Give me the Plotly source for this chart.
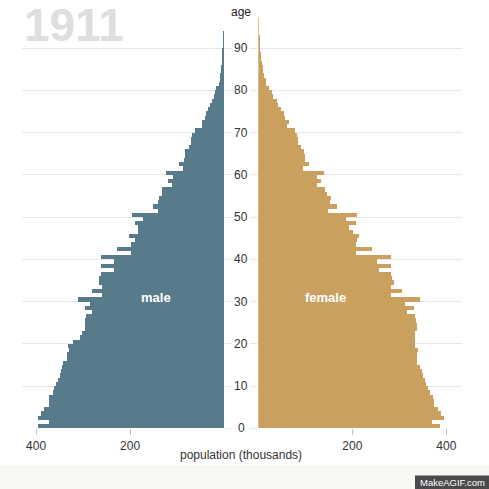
import plotly.graph_objects as go

# population by single year of age, thousands
male = [396, 373, 396, 389, 383, 373, 373, 372, 365, 362,
        358, 353, 350, 347, 344, 342, 335, 335, 330, 332,
        322, 307, 303, 296, 296, 296, 294, 282, 296, 286,
        310, 260, 280, 259, 267, 267, 261, 235, 262, 234,
        262, 199, 227, 197, 190, 202, 184, 184, 189, 172,
        196, 140, 152, 140, 139, 132, 132, 111, 119, 109,
        123, 87, 96, 86, 84, 82, 74, 70, 70, 69,
        61, 47, 47, 41, 39, 34, 30, 26, 22, 20,
        16, 11, 9, 8, 7, 6, 5, 4, 3, 2.5,
        2, 1.5, 1, 0.7]
female = [388, 370, 395, 390, 382, 374, 374, 373, 367, 362,
          358, 355, 351, 348, 344, 338, 338, 339, 341, 335,
          333, 333, 335, 339, 339, 337, 335, 317, 332, 312,
          345, 282, 306, 282, 289, 285, 282, 257, 282, 253,
          284, 209, 243, 209, 211, 214, 202, 194, 209, 188,
          211, 149, 168, 154, 156, 146, 143, 126, 134, 126,
          141, 96, 108, 99, 99, 98, 92, 85, 85, 82,
          79, 62, 66, 58, 55, 48, 43, 40, 32, 30,
          24, 18, 16, 13, 11, 10, 8.5, 7, 6, 4.5,
          3.5, 3, 2.5, 2, 1.5, 1, 0.6]
age_ticks = [0, 10, 20, 30, 40, 50, 60, 70, 80, 90]
pop_ticks = [200, 400]

W = H = 489
FONT = "Liberation Sans"
GRID = "#e6e6e6"

fig = go.Figure()
fig.add_trace(go.Bar(x=male, y=list(range(len(male))), orientation="h", offset=0, width=1,
                     marker=dict(color="#537787", line_width=0, opacity=0.97),
                     xaxis="x", yaxis="y", showlegend=False))
fig.add_trace(go.Bar(x=female, y=list(range(len(female))), orientation="h", offset=0, width=1,
                     marker=dict(color="#c89d5a", line_width=0, opacity=0.97),
                     xaxis="x2", yaxis="y2", showlegend=False))


def px_x(p):
    return p / W


def px_y(p):
    return 1 - p / H


y_dom = [px_y(428.3), px_y(18)]
y_common = dict(domain=y_dom, range=[0, 97.1], tickvals=age_ticks, showticklabels=False,
                showgrid=True, gridcolor=GRID, gridwidth=1, zeroline=False,
                ticks="outside", ticklen=7, tickcolor=GRID, showline=False)
x_common = dict(tickvals=pop_ticks, showgrid=False, zeroline=False, showline=False,
                ticks="outside", ticklen=6, tickcolor="#c4c4c4",
                tickfont=dict(family=FONT, size=12, color="#333333"))

annotations = [
    dict(text="1911", x=px_x(74), y=px_y(25), font=dict(family=FONT, size=46, color="#dedede", weight="bold")),
    dict(text="age", x=px_x(241), y=px_y(12), font=dict(family=FONT, size=12, color="#222222")),
    dict(text="male", x=px_x(156), y=px_y(297), font=dict(family=FONT, size=13, color="white", weight="bold")),
    dict(text="female", x=px_x(325), y=px_y(297), font=dict(family=FONT, size=13, color="white", weight="bold")),
    dict(text="population (thousands)", x=px_x(241), y=px_y(455), font=dict(family=FONT, size=12, color="#333333")),
    dict(text="MakeAGIF.com", x=px_x(452), y=px_y(482), font=dict(family=FONT, size=9.5, color="white")),
]
for a in annotations:
    a.update(xref="paper", yref="paper", showarrow=False, borderpad=0, borderwidth=0,
             xanchor="center", yanchor="middle")
for t in age_ticks:
    annotations.append(dict(text=str(t), xref="paper", yref="y", x=px_x(241), y=t, showarrow=False,
                            xanchor="center", yanchor="middle",
                            font=dict(family=FONT, size=12, color="#333333")))

fig.update_layout(
    width=W, height=H, margin=dict(l=0, r=0, t=0, b=0),
    paper_bgcolor="white", plot_bgcolor="rgba(0,0,0,0)",
    barmode="overlay", bargap=0,
    xaxis=dict(domain=[px_x(22), px_x(224)], range=[430, 0], anchor="y", **x_common),
    xaxis2=dict(domain=[px_x(258.3), px_x(462)], range=[0, 433.4], anchor="y2", **x_common),
    yaxis=dict(anchor="x", side="right", **y_common),
    yaxis2=dict(anchor="x2", side="left", **y_common),
    annotations=annotations,
    shapes=[
        dict(type="rect", xref="paper", yref="paper", x0=0, x1=1, y0=0, y1=px_y(465),
             fillcolor="#f7f9f5", line_width=0, layer="below"),
        dict(type="rect", xref="paper", yref="paper", x0=px_x(415), x1=1, y0=0, y1=px_y(475.5),
             fillcolor="#4a4a4a", line_width=0, layer="below"),
    ],
)

fig.write_html("out.html", config=dict(displayModeBar=False),
               post_script="document.body.style.margin='0';document.documentElement.style.overflow='hidden';")
